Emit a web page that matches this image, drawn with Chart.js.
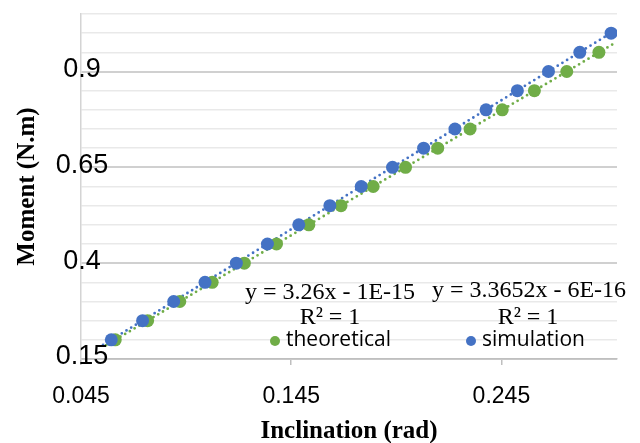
<!DOCTYPE html>
<html><head><meta charset="utf-8">
<script src="https://cdn.jsdelivr.net/npm/chart.js@4/dist/chart.umd.min.js"></script>
<style>html,body{margin:0;padding:0;background:#fff;}#wrap{width:640px;height:443px;}</style>
</head><body><div id="wrap"><canvas id="c" width="640" height="443"></canvas></div>
<script>
// ---- data ----
const seriesNames = ['theoretical', 'simulation'];
const theoX = [0.0613, 0.0767, 0.0920, 0.1074, 0.1227, 0.1380, 0.1534, 0.1687, 0.1840, 0.1994, 0.2147, 0.2301, 0.2454, 0.2607, 0.2761, 0.2914];
const theoY = [0.20, 0.25, 0.30, 0.35, 0.40, 0.45, 0.50, 0.55, 0.60, 0.65, 0.70, 0.75, 0.80, 0.85, 0.90, 0.95];
const simX = [0.0594, 0.0743, 0.0891, 0.1040, 0.1189, 0.1337, 0.1486, 0.1634, 0.1783, 0.1932, 0.2080, 0.2229, 0.2377, 0.2526, 0.2674, 0.2823, 0.2972];
const simY = [0.20, 0.25, 0.30, 0.35, 0.40, 0.45, 0.50, 0.55, 0.60, 0.65, 0.70, 0.75, 0.80, 0.85, 0.90, 0.95, 1.00];
// trendline end points
const theoTrendX = [0.057, 0.2995];
const theoTrendY = [0.186, 0.976];
const simTrendX = [0.0555, 0.2985];
const simTrendY = [0.187, 1.005];
const equations = ['y = 3.26x - 1E-15', 'y = 3.3652x - 6E-16'];
const rSquared = ['R\u00B2 = 1', 'R\u00B2 = 1'];
// axes
const xTicks = [0.045, 0.145, 0.245];
const xTickLabels = ['0.045', '0.145', '0.245'];
const yGrid = [0.15, 0.20, 0.25, 0.30, 0.35, 0.40, 0.45, 0.50, 0.55, 0.60, 0.65, 0.70, 0.75, 0.80, 0.85, 0.90, 0.95, 1.00, 1.05];
const yLabels = [0.15, 0.4, 0.65, 0.9];
const yLabelText = ['0.15', '0.4', '0.65', '0.9'];

const GREEN = '#70AD47', BLUE = '#4472C4';
const isMajor = v => yLabels.some(m => Math.abs(m - v) < 1e-9);

const overlay = {
  id: 'overlay',
  afterDraw(chart) {
    const ctx = chart.ctx, ys = chart.scales.y, xs = chart.scales.x;
    ctx.save();
    // y tick labels centred on the axis line
    ctx.fillStyle = '#000';
    ctx.font = '27px "Liberation Sans"';
    ctx.textAlign = 'center';
    ctx.textBaseline = 'middle';
    yLabels.forEach((v, i) => {
      ctx.fillText(yLabelText[i], xs.left + 1, ys.getPixelForValue(v) - 2);
    });
    // trendline equations
    ctx.font = '24px "Liberation Serif"';
    ctx.fillText(equations[0], 330, 293);
    ctx.fillText(rSquared[0], 330, 318);
    ctx.fillText(equations[1], 529, 291);
    ctx.fillText(rSquared[1], 528, 318);
    // legend
    ctx.font = '21px "Open Sans"';
    ctx.textAlign = 'left';
    const items = [{x: 275, c: GREEN, t: seriesNames[0]}, {x: 471, c: BLUE, t: seriesNames[1]}];
    items.forEach(it => {
      ctx.fillStyle = it.c;
      ctx.beginPath(); ctx.arc(it.x, 341, 5, 0, Math.PI * 2); ctx.fill();
      ctx.fillStyle = '#000';
      ctx.fillText(it.t, it.x + 11, 340);
    });
    ctx.restore();
  }
};

new Chart(document.getElementById('c'), {
  type: 'scatter',
  data: {
    datasets: [
      { label: seriesNames[1], data: simX.map((x, i) => ({x, y: simY[i]})),
        backgroundColor: BLUE, borderColor: BLUE, pointRadius: 6.5, pointBorderWidth: 0, order: 1 },
      { label: seriesNames[0], data: theoX.map((x, i) => ({x, y: theoY[i]})),
        backgroundColor: GREEN, borderColor: GREEN, pointRadius: 6.5, pointBorderWidth: 0, order: 2 },
      { label: 'trend sim', data: simTrendX.map((x, i) => ({x, y: simTrendY[i]})), showLine: true,
        borderColor: BLUE, borderWidth: 2.8, borderDash: [0, 5.5], borderCapStyle: 'round', pointRadius: 0, order: 3 },
      { label: 'trend theo', data: theoTrendX.map((x, i) => ({x, y: theoTrendY[i]})), showLine: true,
        borderColor: GREEN, borderWidth: 2.8, borderDash: [0, 5.5], borderCapStyle: 'round', pointRadius: 0, order: 4 }
    ]
  },
  options: {
    responsive: false, animation: false, devicePixelRatio: 1,
    layout: { padding: { left: 11, right: 23, top: 14, bottom: 0 } },
    plugins: { legend: { display: false }, tooltip: { enabled: false } },
    scales: {
      x: {
        type: 'linear', min: 0.045, max: 0.3,
        afterBuildTicks: s => { s.ticks = xTicks.map(v => ({value: v})); },
        afterFit: s => { s.height = 84; },
        ticks: { callback: (v, i) => xTickLabels[i], color: '#000', padding: 20, maxRotation: 0, autoSkip: false,
                 font: { family: 'Liberation Sans', size: 23, lineHeight: 1 } },
        grid: { drawOnChartArea: false, drawTicks: true, tickLength: 6, color: '#bfbfbf', lineWidth: 1.5 },
        border: { display: true, color: '#bfbfbf', width: 1.5 },
        title: { display: true, text: 'Inclination (rad)', color: '#000', padding: { top: 0, bottom: 0 },
                 font: { family: 'Liberation Serif', size: 25, weight: 'bold', lineHeight: 0.88 } }
      },
      y: {
        type: 'linear', min: 0.15, max: 1.05,
        afterBuildTicks: s => { s.ticks = yGrid.map(v => ({value: v})); },
        afterFit: s => { s.width = 70; },
        ticks: { display: false },
        grid: { drawTicks: false, color: c => isMajor(c.tick.value) ? '#d0d0d0' : '#e9e9e9',
                lineWidth: c => isMajor(c.tick.value) ? 2 : 1.5 },
        border: { display: true, color: '#d4d4d4', width: 1.5 },
        title: { display: true, text: 'Moment (N.m)', color: '#000', padding: { top: 4.5, bottom: 40.5 },
                 font: { family: 'Liberation Serif', size: 25, weight: 'bold', lineHeight: 1 } }
      }
    }
  },
  plugins: [overlay]
});
</script>
</body></html>
